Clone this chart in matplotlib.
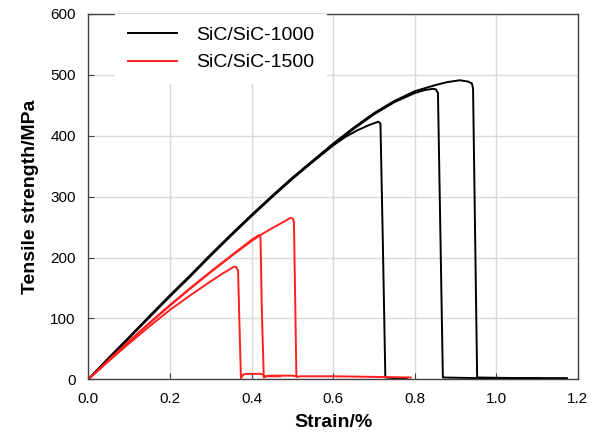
import matplotlib

matplotlib.use("Agg")
import matplotlib.pyplot as plt
from matplotlib.axes import Axes
from matplotlib.figure import Figure

# SiC/SiC-1000 specimens (strain %, stress MPa)
b1Strain: list = [0, 0.05, 0.1, 0.15, 0.2, 0.25, 0.3, 0.35, 0.4, 0.45, 0.5, 0.55, 0.6, 0.63, 0.66, 0.69, 0.711, 0.716, 0.722, 0.728, 0.75, 0.78]
b1Stress: list = [0, 34, 68, 102, 136, 169, 203, 236, 268, 299, 329, 357, 384, 398, 409, 418, 423, 420, 220, 3, 2, 2]

b2Strain: list = [0, 0.05, 0.1, 0.15, 0.2, 0.25, 0.3, 0.35, 0.4, 0.45, 0.5, 0.55, 0.6, 0.65, 0.7, 0.75, 0.8, 0.825, 0.845, 0.852, 0.857, 0.869, 0.95, 1.107]
b2Stress: list = [0, 35, 69, 103, 137, 170, 204, 237, 269, 300, 330, 358, 385, 411, 435, 455, 470, 475, 477, 476, 470, 3, 2, 2]

b3Strain: list = [0, 0.05, 0.1, 0.15, 0.2, 0.25, 0.3, 0.35, 0.4, 0.45, 0.5, 0.55, 0.6, 0.65, 0.7, 0.75, 0.8, 0.85, 0.88, 0.91, 0.93, 0.94, 0.943, 0.953, 1.05, 1.173]
b3Stress: list = [0, 35, 69, 104, 138, 171, 205, 238, 270, 301, 331, 359, 387, 413, 437, 457, 473, 483, 488, 491, 489, 486, 478, 3, 2, 2]

# SiC/SiC-1500 specimens
raStrain: list = [0, 0.05, 0.1, 0.15, 0.2, 0.25, 0.3, 0.33, 0.357, 0.363, 0.367, 0.37, 0.374, 0.38, 0.39, 0.42, 0.428, 0.432, 0.47]
raStress: list = [0, 30, 59, 87, 114, 138, 161, 174, 185, 184, 178, 100, 2, 8, 9, 9, 8, 5, 5]

rbStrain: list = [0, 0.05, 0.1, 0.15, 0.2, 0.25, 0.3, 0.35, 0.4, 0.419, 0.422, 0.425, 0.43, 0.44, 0.5, 0.51]
rbStress: list = [0, 32, 63, 93, 122, 150, 177, 203, 229, 237, 233, 120, 3, 6, 6, 5]

rcStrain: list = [0, 0.05, 0.1, 0.15, 0.2, 0.25, 0.3, 0.35, 0.4, 0.42, 0.45, 0.48, 0.495, 0.501, 0.504, 0.507, 0.51, 0.52, 0.6, 0.7, 0.79]
rcStress: list = [0, 31, 62, 92, 121, 149, 176, 202, 227, 236, 248, 259, 265, 264, 258, 130, 4, 5, 5, 4, 3]

xTicks: list = [0.0, 0.2, 0.4, 0.6, 0.8, 1.0, 1.2]
yTicks: list = [0, 100, 200, 300, 400, 500, 600]
labels: list = ["SiC/SiC-1000", "SiC/SiC-1500"]


def main() -> None:
    plt.rcParams["font.family"] = ["Liberation Sans", "DejaVu Sans"]

    figure: Figure = plt.figure(figsize=(5.97, 4.34), dpi=100)
    ax: Axes = figure.add_axes([0.148, 0.126, 0.820, 0.842])

    black: str = "#000000"
    red: str = "#ff1f1f"
    lw: float = 1.4

    line1000 = ax.plot(b1Strain, b1Stress, color=black, lw=lw)[0]
    ax.plot(b2Strain, b2Stress, color=black, lw=lw)
    ax.plot(b3Strain, b3Stress, color=black, lw=lw)

    line1500 = ax.plot(raStrain, raStress, color=red, lw=lw)[0]
    ax.plot(rbStrain, rbStress, color=red, lw=lw)
    ax.plot(rcStrain, rcStress, color=red, lw=lw)

    ax.set_xlim(0, 1.2)
    ax.set_ylim(0, 600)
    ax.set_xticks(xTicks)
    ax.set_xticklabels([f"{t:.1f}" for t in xTicks])
    ax.set_yticks(yTicks)
    ax.grid(True, color="#dadada", lw=1.0)
    ax.set_axisbelow(True)
    ax.tick_params(direction="in", length=4, pad=9, labelsize=11, color="#444444")
    for spine in ax.spines.values():
        spine.set_color("#444444")
        spine.set_linewidth(1.0)

    ax.set_xlabel("Strain/%", fontsize=14, fontweight="bold", labelpad=6)
    ax.set_ylabel("Tensile strength/MPa", fontsize=14, fontweight="bold", labelpad=8)

    legend = ax.legend(
        [line1000, line1500],
        labels,
        loc="upper left",
        bbox_to_anchor=(0.055, 1.0),
        borderaxespad=0,
        fontsize=14,
        handlelength=2.5,
        handletextpad=1.0,
        labelspacing=0.5,
        borderpad=0.65,
        fancybox=False,
        framealpha=1,
    )
    legend.get_frame().set_edgecolor("none")

    figure.savefig("out.png", dpi=100)


if __name__ == "__main__":
    main()
